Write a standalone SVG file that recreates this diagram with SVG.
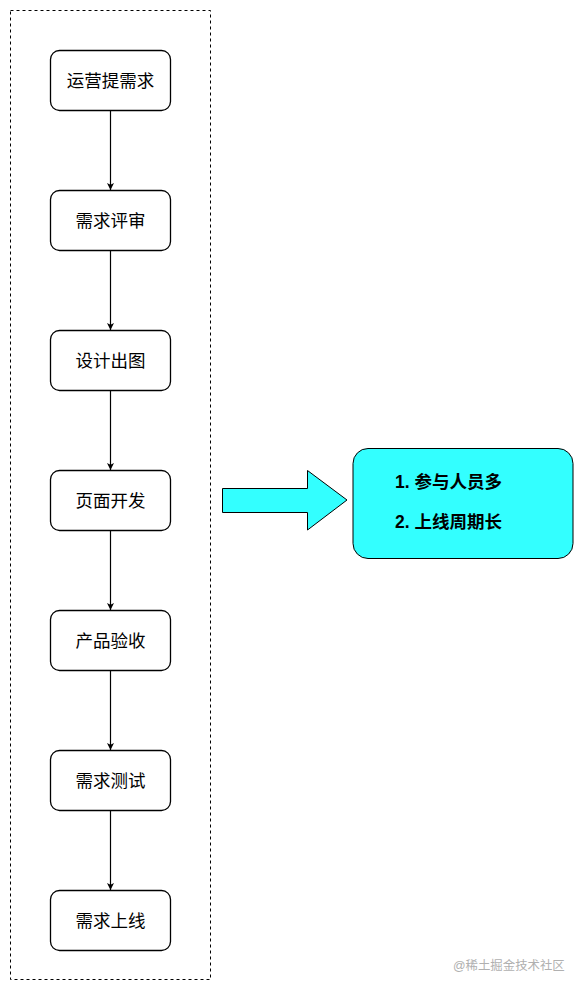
<svg xmlns="http://www.w3.org/2000/svg" width="583" height="991" viewBox="0 0 583 991">
<defs>
<style>
.node rect{fill:#fff;stroke:#000;stroke-width:1.3}
.node text{font-family:"Liberation Sans","Noto Sans CJK SC",sans-serif;font-size:17.5px;fill:#000;text-anchor:middle}
.conn line{stroke:#000;stroke-width:1.2}
.bold{font-family:"Liberation Sans","Noto Sans CJK SC",sans-serif;font-size:17.5px;font-weight:bold;fill:#000}
</style>
<marker id="ah" viewBox="0 0 10 10" refX="10" refY="5" markerWidth="7" markerHeight="7" markerUnits="userSpaceOnUse" orient="auto">
<path d="M0,0 L10,5 L0,10 L2.5,5 z" fill="#000"/>
</marker>
</defs>
<rect width="583" height="991" fill="#fff"/>
<rect id="container" x="10.5" y="10.5" width="200" height="969" fill="none" stroke="#000" stroke-width="1" stroke-dasharray="3,3"/>
<g class="conn">
<line x1="110.5" y1="110" x2="110.5" y2="190" marker-end="url(#ah)"/>
<line x1="110.5" y1="250" x2="110.5" y2="330" marker-end="url(#ah)"/>
<line x1="110.5" y1="390" x2="110.5" y2="470" marker-end="url(#ah)"/>
<line x1="110.5" y1="530" x2="110.5" y2="610" marker-end="url(#ah)"/>
<line x1="110.5" y1="670" x2="110.5" y2="750" marker-end="url(#ah)"/>
<line x1="110.5" y1="810" x2="110.5" y2="890" marker-end="url(#ah)"/>
</g>
<g id="n1" class="node"><rect x="50.5" y="50.5" width="120" height="60" rx="9"/><text x="110.5" y="86.5">运营提需求</text></g>
<g id="n2" class="node"><rect x="50.5" y="190.5" width="120" height="60" rx="9"/><text x="110.5" y="226.5">需求评审</text></g>
<g id="n3" class="node"><rect x="50.5" y="330.5" width="120" height="60" rx="9"/><text x="110.5" y="366.5">设计出图</text></g>
<g id="n4" class="node"><rect x="50.5" y="470.5" width="120" height="60" rx="9"/><text x="110.5" y="506.5">页面开发</text></g>
<g id="n5" class="node"><rect x="50.5" y="610.5" width="120" height="60" rx="9"/><text x="110.5" y="646.5">产品验收</text></g>
<g id="n6" class="node"><rect x="50.5" y="750.5" width="120" height="60" rx="9"/><text x="110.5" y="786.5">需求测试</text></g>
<g id="n7" class="node"><rect x="50.5" y="890.5" width="120" height="60" rx="9"/><text x="110.5" y="926.5">需求上线</text></g>
<g id="bigarrow">
<path d="M222.5,488.5 L307.5,488.5 L307.5,470.5 L347,500 L307.5,530 L307.5,512.5 L222.5,512.5 Z" fill="#33FFFF" stroke="#000" stroke-width="1"/>
</g>
<g id="summary">
<rect x="353" y="448.5" width="220" height="110" rx="15" fill="#33FFFF" stroke="#000" stroke-width="1"/>
<text class="bold" x="395" y="488">1. 参与人员多</text>
<text class="bold" x="395" y="528">2. 上线周期长</text>
</g>
<text x="453" y="970" font-family="'Liberation Sans','Noto Sans CJK SC',sans-serif" font-size="12.4" fill="#b0b0b0">@稀土掘金技术社区</text>
</svg>
